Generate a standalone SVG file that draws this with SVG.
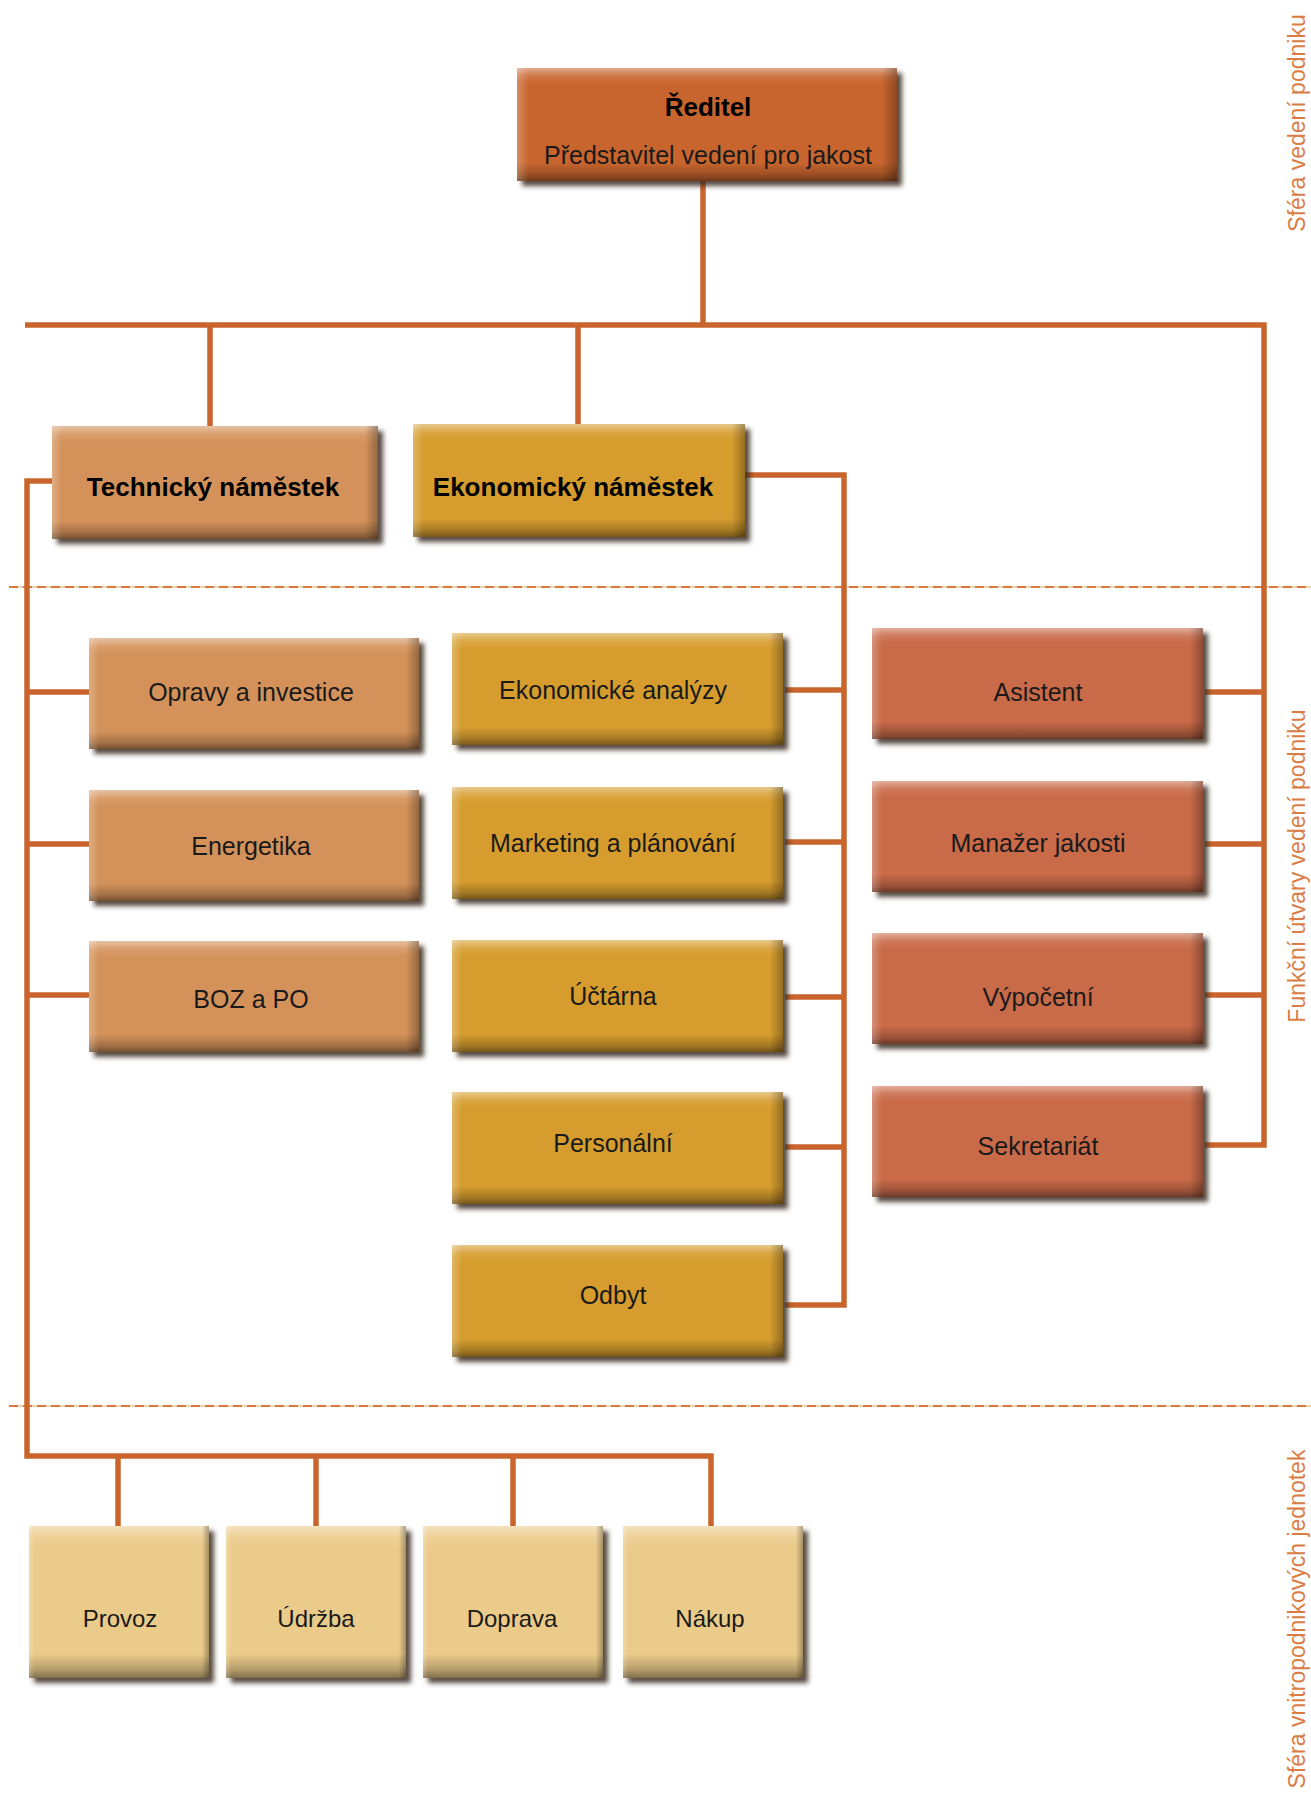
<svg xmlns="http://www.w3.org/2000/svg" width="1311" height="1796" viewBox="0 0 1311 1796">
<defs>
<filter id="sh" x="-5%" y="-10%" width="115%" height="130%">
<feDropShadow dx="5" dy="5" stdDeviation="2.5" flood-color="#3b2a1c" flood-opacity="0.85"/>
</filter>
<linearGradient id="bev" x1="0" y1="0" x2="0" y2="1">
<stop offset="0" stop-color="#fff" stop-opacity="0.45"/>
<stop offset="0.07" stop-color="#fff" stop-opacity="0.12"/>
<stop offset="0.14" stop-color="#fff" stop-opacity="0"/>
<stop offset="0.84" stop-color="#000" stop-opacity="0"/>
<stop offset="0.94" stop-color="#000" stop-opacity="0.22"/>
<stop offset="1" stop-color="#000" stop-opacity="0.45"/>
</linearGradient>
<linearGradient id="bevh" x1="0" y1="0" x2="1" y2="0">
<stop offset="0" stop-color="#fff" stop-opacity="0.25"/>
<stop offset="0.03" stop-color="#fff" stop-opacity="0"/>
<stop offset="0.96" stop-color="#000" stop-opacity="0"/>
<stop offset="1" stop-color="#000" stop-opacity="0.3"/>
</linearGradient>
<style>
.f{filter:url(#sh)}
.bv{fill:url(#bev)}
.bh{fill:url(#bevh)}
.c0{fill:#C8652F}
.c1{fill:#D4925A}
.c2{fill:#D69D2E}
.c3{fill:#C96B4A}
.c4{fill:#EBCB8A}
.t{font-family:"Liberation Sans",Arial,sans-serif;font-size:25px;fill:#1a1a1a;text-anchor:middle}
.b{font-weight:bold;font-size:26px;fill:#000}
.s{font-size:24px}
.lab{font-family:"Liberation Sans",Arial,sans-serif;font-size:23px;fill:#D97D45;text-anchor:middle}
.cn{fill:none;stroke:#C9652C;stroke-width:5.5;stroke-linejoin:miter;stroke-linecap:butt}
.dl{stroke:#F0D2B0;stroke-width:2;fill:none}
.dd{stroke:#D9773C;stroke-width:2;fill:none;stroke-dasharray:9 5}
</style>
</defs>
<rect width="1311" height="1796" fill="#fff"/>

<g id="dividers">
<path class="dl" d="M9 587H1311M9 1406H1311"/>
<path class="dd" d="M9 587H1311M9 1406H1311"/>
</g>

<g id="connectors">
<path class="cn" d="M703 180V325"/>
<path class="cn" d="M25 325H1264V1145H1205"/>
<path class="cn" d="M210 325V428"/>
<path class="cn" d="M578 325V426"/>
<path class="cn" d="M1205 692H1264M1205 844H1264M1205 995H1264"/>
<path class="cn" d="M745 475H844V1305H785"/>
<path class="cn" d="M785 690H844M785 842H844M785 997H844M785 1147H844"/>
<path class="cn" d="M54 481H27V1456H711V1528"/>
<path class="cn" d="M27 692H91M27 844H91M27 995H91"/>
<path class="cn" d="M118 1456V1528M316 1456V1528M513 1456V1528"/>
</g>

<g id="reditel">
<rect class="c0 f" x="517" y="68" width="380" height="113"/>
<rect class="bv" x="517" y="68" width="380" height="113"/>
<rect class="bh" x="517" y="68" width="380" height="113"/>
<text class="t b" x="708" y="116">Ředitel</text>
<text class="t" x="708" y="164">Představitel vedení pro jakost</text>
</g>

<g id="technicky">
<rect class="c1 f" x="52" y="426" width="326" height="113"/>
<rect class="bv" x="52" y="426" width="326" height="113"/>
<rect class="bh" x="52" y="426" width="326" height="113"/>
<text class="t b" x="213" y="496">Technický náměstek</text>
</g>
<g id="ekonomicky">
<rect class="c2 f" x="413" y="424" width="332" height="113"/>
<rect class="bv" x="413" y="424" width="332" height="113"/>
<rect class="bh" x="413" y="424" width="332" height="113"/>
<text class="t b" x="573" y="496">Ekonomický náměstek</text>
</g>

<g id="opravy">
<rect class="c1 f" x="89" y="638" width="330" height="111"/>
<rect class="bv" x="89" y="638" width="330" height="111"/>
<rect class="bh" x="89" y="638" width="330" height="111"/>
<text class="t" x="251" y="701">Opravy a investice</text>
</g>
<g id="energetika">
<rect class="c1 f" x="89" y="790" width="330" height="111"/>
<rect class="bv" x="89" y="790" width="330" height="111"/>
<rect class="bh" x="89" y="790" width="330" height="111"/>
<text class="t" x="251" y="855">Energetika</text>
</g>
<g id="boz">
<rect class="c1 f" x="89" y="941" width="330" height="111"/>
<rect class="bv" x="89" y="941" width="330" height="111"/>
<rect class="bh" x="89" y="941" width="330" height="111"/>
<text class="t" x="251" y="1008">BOZ a PO</text>
</g>

<g id="ekonomicke-analyzy">
<rect class="c2 f" x="452" y="633" width="331" height="112"/>
<rect class="bv" x="452" y="633" width="331" height="112"/>
<rect class="bh" x="452" y="633" width="331" height="112"/>
<text class="t" x="613" y="699">Ekonomické analýzy</text>
</g>
<g id="marketing">
<rect class="c2 f" x="452" y="787" width="331" height="112"/>
<rect class="bv" x="452" y="787" width="331" height="112"/>
<rect class="bh" x="452" y="787" width="331" height="112"/>
<text class="t" x="613" y="852">Marketing a plánování</text>
</g>
<g id="uctarna">
<rect class="c2 f" x="452" y="940" width="331" height="112"/>
<rect class="bv" x="452" y="940" width="331" height="112"/>
<rect class="bh" x="452" y="940" width="331" height="112"/>
<text class="t" x="613" y="1005">Účtárna</text>
</g>
<g id="personalni">
<rect class="c2 f" x="452" y="1092" width="331" height="112"/>
<rect class="bv" x="452" y="1092" width="331" height="112"/>
<rect class="bh" x="452" y="1092" width="331" height="112"/>
<text class="t" x="613" y="1152">Personální</text>
</g>
<g id="odbyt">
<rect class="c2 f" x="452" y="1245" width="331" height="112"/>
<rect class="bv" x="452" y="1245" width="331" height="112"/>
<rect class="bh" x="452" y="1245" width="331" height="112"/>
<text class="t" x="613" y="1304">Odbyt</text>
</g>

<g id="asistent">
<rect class="c3 f" x="872" y="628" width="331" height="111"/>
<rect class="bv" x="872" y="628" width="331" height="111"/>
<rect class="bh" x="872" y="628" width="331" height="111"/>
<text class="t" x="1038" y="701">Asistent</text>
</g>
<g id="manazer">
<rect class="c3 f" x="872" y="781" width="331" height="111"/>
<rect class="bv" x="872" y="781" width="331" height="111"/>
<rect class="bh" x="872" y="781" width="331" height="111"/>
<text class="t" x="1038" y="852">Manažer jakosti</text>
</g>
<g id="vypocetni">
<rect class="c3 f" x="872" y="933" width="331" height="111"/>
<rect class="bv" x="872" y="933" width="331" height="111"/>
<rect class="bh" x="872" y="933" width="331" height="111"/>
<text class="t" x="1038" y="1006">Výpočetní</text>
</g>
<g id="sekretariat">
<rect class="c3 f" x="872" y="1086" width="331" height="111"/>
<rect class="bv" x="872" y="1086" width="331" height="111"/>
<rect class="bh" x="872" y="1086" width="331" height="111"/>
<text class="t" x="1038" y="1155">Sekretariát</text>
</g>

<g id="provoz">
<rect class="c4 f" x="29" y="1526" width="180" height="152"/>
<rect class="bv" x="29" y="1526" width="180" height="152"/>
<rect class="bh" x="29" y="1526" width="180" height="152"/>
<text class="t s" x="120" y="1627">Provoz</text>
</g>
<g id="udrzba">
<rect class="c4 f" x="226" y="1526" width="180" height="152"/>
<rect class="bv" x="226" y="1526" width="180" height="152"/>
<rect class="bh" x="226" y="1526" width="180" height="152"/>
<text class="t s" x="316" y="1627">Údržba</text>
</g>
<g id="doprava">
<rect class="c4 f" x="423" y="1526" width="180" height="152"/>
<rect class="bv" x="423" y="1526" width="180" height="152"/>
<rect class="bh" x="423" y="1526" width="180" height="152"/>
<text class="t s" x="512" y="1627">Doprava</text>
</g>
<g id="nakup">
<rect class="c4 f" x="623" y="1526" width="180" height="152"/>
<rect class="bv" x="623" y="1526" width="180" height="152"/>
<rect class="bh" x="623" y="1526" width="180" height="152"/>
<text class="t s" x="710" y="1627">Nákup</text>
</g>

<g id="labels">
<text class="lab" transform="translate(1305 123) rotate(-90)">Sféra vedení podniku</text>
<text class="lab" transform="translate(1305 866) rotate(-90)">Funkční útvary vedení podniku</text>
<text class="lab" transform="translate(1305 1619) rotate(-90)">Sféra vnitropodnikových jednotek</text>
</g>
</svg>
